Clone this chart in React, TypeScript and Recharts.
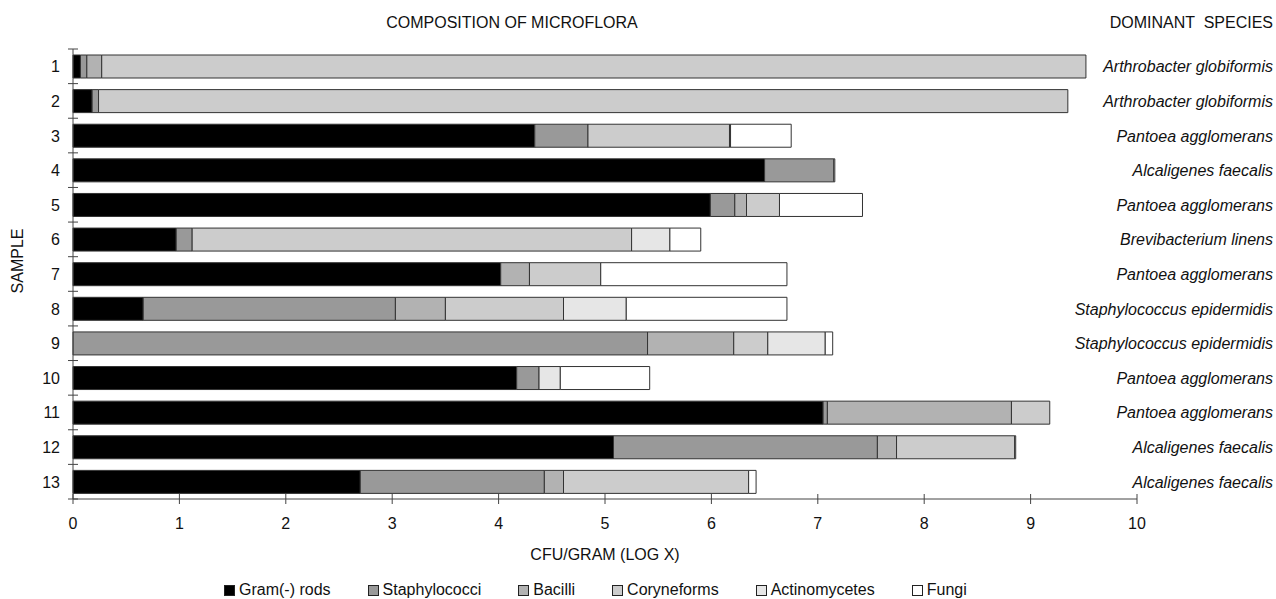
import { BarChart, Bar, XAxis, YAxis, Legend, Customized } from 'recharts';

const samples = ['1', '2', '3', '4', '5', '6', '7', '8', '9', '10', '11', '12', '13'];
const species = [
  'Arthrobacter globiformis',
  'Arthrobacter globiformis',
  'Pantoea agglomerans',
  'Alcaligenes faecalis',
  'Pantoea agglomerans',
  'Brevibacterium linens',
  'Pantoea agglomerans',
  'Staphylococcus epidermidis',
  'Staphylococcus epidermidis',
  'Pantoea agglomerans',
  'Pantoea agglomerans',
  'Alcaligenes faecalis',
  'Alcaligenes faecalis',
];

// log CFU/gram contributed by each group (stacked)
const gramRods = [0.07, 0.18, 4.34, 6.5, 5.99, 0.97, 4.02, 0.66, 0, 4.17, 7.05, 5.08, 2.7];
const staphylococci = [0.06, 0.06, 0.5, 0.65, 0.23, 0.15, 0, 2.37, 5.4, 0.21, 0.04, 2.48, 1.73];
const bacilli = [0.14, 0, 0, 0, 0.11, 0, 0.27, 0.47, 0.81, 0, 1.73, 0.18, 0.18];
const coryneforms = [9.25, 9.11, 1.33, 0, 0.31, 4.13, 0.67, 1.11, 0.32, 0, 0.36, 1.11, 1.74];
const actinomycetes = [0, 0, 0.01, 0, 0, 0.36, 0, 0.59, 0.54, 0.2, 0, 0, 0];
const fungi = [0, 0, 0.57, 0.01, 0.78, 0.29, 1.75, 1.51, 0.07, 0.84, 0, 0.01, 0.07];

const xTicks = [0, 1, 2, 3, 4, 5, 6, 7, 8, 9, 10];

const SERIES = [
  { key: 'gram', name: 'Gram(-) rods', color: '#000000' },
  { key: 'staph', name: 'Staphylococci', color: '#999999' },
  { key: 'bacilli', name: 'Bacilli', color: '#b2b2b2' },
  { key: 'coryne', name: 'Coryneforms', color: '#cccccc' },
  { key: 'actino', name: 'Actinomycetes', color: '#e6e6e6' },
  { key: 'fungi', name: 'Fungi', color: '#ffffff' },
];

const data = samples.map((s, i) => ({
  sample: s,
  gram: gramRods[i],
  staph: staphylococci[i],
  bacilli: bacilli[i],
  coryne: coryneforms[i],
  actino: actinomycetes[i],
  fungi: fungi[i],
}));

const FONT = '"Liberation Sans", Arial, sans-serif';
const AXIS = '#444';
const W = 1276;
const H = 599;
const PLOT_TOP = 49;
const PLOT_BOTTOM = 499;
const BAND = (PLOT_BOTTOM - PLOT_TOP) / samples.length;

function XTick(props: any) {
  const { x, y, payload } = props;
  return (
    <g>
      <line x1={x} x2={x} y1={y - 5} y2={y + 5} stroke={AXIS} />
      <text x={x} y={y + 30} textAnchor="middle" fontSize={16} fontFamily={FONT} fill="#111">
        {payload.value}
      </text>
    </g>
  );
}

function SampleTick(props: any) {
  const { x, y, payload, index } = props;
  return (
    <g>
      <line x1={x - 5} x2={x + 5} y1={y - BAND / 2} y2={y - BAND / 2} stroke={AXIS} />
      {index === samples.length - 1 && (
        <line x1={x - 5} x2={x + 5} y1={y + BAND / 2} y2={y + BAND / 2} stroke={AXIS} />
      )}
      <text x={x - 13} y={y + 6} textAnchor="end" fontSize={16} fontFamily={FONT} fill="#111">
        {payload.value}
      </text>
    </g>
  );
}

function SpeciesTick(props: any) {
  const { y, index } = props;
  return (
    <text x={1273} y={y + 6} textAnchor="end" fontSize={16} fontStyle="italic" fontFamily={FONT} fill="#111">
      {species[index]}
    </text>
  );
}

function Titles() {
  return (
    <g fontFamily={FONT} fontSize={16} fill="#111">
      <text x={512} y={28} textAnchor="middle">COMPOSITION OF MICROFLORA</text>
      <text x={1273} y={28} textAnchor="end" xmlSpace="preserve">DOMINANT  SPECIES</text>
      <text x={605} y={560} textAnchor="middle">CFU/GRAM (LOG X)</text>
      <text
        x={17}
        y={261}
        textAnchor="middle"
        dominantBaseline="central"
        transform="rotate(-90, 17, 261)"
      >
        SAMPLE
      </text>
    </g>
  );
}

function LegendContent() {
  return (
    <div
      style={{
        display: 'flex',
        alignItems: 'center',
        height: 18,
        paddingLeft: 224,
        gap: 37,
        fontFamily: FONT,
        fontSize: 16,
        color: '#111',
        lineHeight: '18px',
      }}
    >
      {SERIES.map((s) => (
        <div key={s.key} style={{ display: 'flex', alignItems: 'center', whiteSpace: 'nowrap' }}>
          <span
            style={{
              display: 'inline-block',
              width: 9,
              height: 9,
              background: s.color,
              border: '1px solid #222',
              marginRight: 4,
            }}
          />
          {s.name}
        </div>
      ))}
    </div>
  );
}

export default function App() {
  return (
    <div style={{ position: 'absolute', left: 0, top: 0, width: W, height: H, background: '#fff' }}>
      <BarChart
        width={W}
        height={H}
        data={data}
        layout="vertical"
        margin={{ top: PLOT_TOP, right: 0, bottom: 0, left: 0 }}
      >
        <XAxis
          type="number"
          domain={[0, 10]}
          ticks={xTicks}
          height={82}
          stroke={AXIS}
          tickLine={false}
          tickSize={0}
          tickMargin={0}
          tick={XTick}
          interval={0}
        />
        <YAxis
          yAxisId="left"
          type="category"
          dataKey="sample"
          width={73}
          stroke={AXIS}
          tickLine={false}
          tickSize={0}
          tickMargin={0}
          tick={SampleTick}
          interval={0}
        />
        <YAxis
          yAxisId="right"
          orientation="right"
          type="category"
          dataKey="sample"
          width={139}
          axisLine={false}
          tickLine={false}
          tickSize={0}
          tickMargin={0}
          tick={SpeciesTick}
          interval={0}
        />
        {SERIES.map((s) => (
          <Bar
            key={s.key}
            yAxisId="left"
            dataKey={s.key}
            name={s.name}
            stackId="a"
            fill={s.color}
            stroke="#333"
            strokeWidth={1}
            barSize={23}
            isAnimationActive={false}
          />
        ))}
        <Legend
          verticalAlign="bottom"
          height={18}
          wrapperStyle={{ left: 0, width: W }}
          content={LegendContent}
        />
        <Customized component={Titles} />
      </BarChart>
    </div>
  );
}
